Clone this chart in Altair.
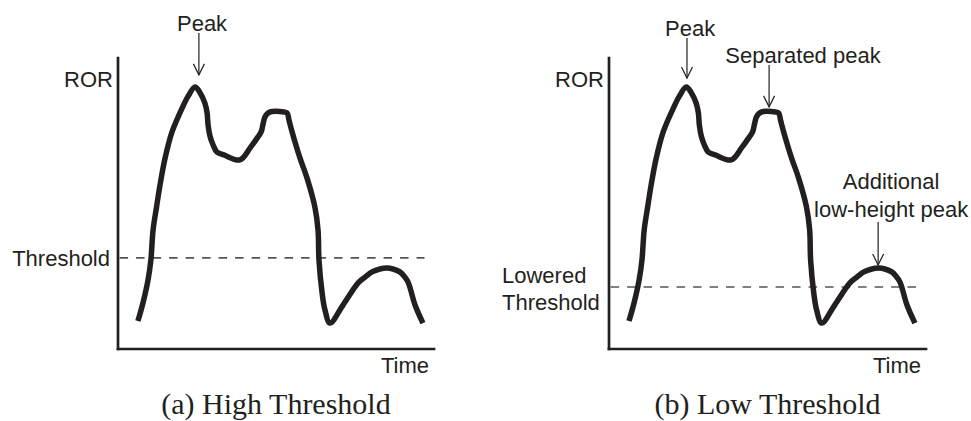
import altair as alt
import pandas as pd

# ---- curve shared by both panels (time and ROR in 0-100 units) ----
time = [6.3, 7.9, 9.5, 10.4, 11.1, 12.2, 13.3, 14.9, 17.1, 20.6, 22.2, 24.4,
        26.0, 27.5, 28.2, 28.5, 29.1, 30.1, 31.3, 33.5, 38.6, 41.8, 44.3, 45.3,
        45.9, 46.5, 47.5, 48.7, 51.3, 53.5, 54.1, 55.1, 57.6, 59.8, 62.3, 63.3,
        63.6, 64.6, 65.5, 67.1, 71.2, 76.0, 78.2, 80.4, 82.9, 85.1, 87.0, 89.2,
        90.5, 91.8, 94.0, 96.5]
ror = [9.6, 15.8, 23.7, 30.6, 40.9, 48.8, 56.4, 65.6, 74.6, 83.5, 86.9, 90.0,
       88.0, 84.5, 81.1, 77.0, 73.2, 70.1, 67.7, 66.7, 65.0, 69.1, 72.9, 74.6,
       77.3, 79.7, 81.1, 81.6, 81.6, 81.1, 78.7, 74.6, 65.6, 58.8, 48.8, 40.9,
       30.6, 19.2, 13.4, 8.9, 15.1, 22.7, 24.7, 26.5, 27.5, 27.8, 27.5, 26.5,
       25.1, 23.0, 15.1, 8.9]

# thresholds
high_threshold = 31.3
low_threshold = 21.3
threshold_span = [0.5, 97.0]

# arrows: time, tail (top) and tip ROR
arrows_a_t = [25.6]
arrows_a_tail = [108.6]
arrows_a_tip = [94.2]
arrows_b_t = [24.6, 50.5, 84.9]
arrows_b_tail = [106.9, 97.6, 43.6]
arrows_b_tip = [93.1, 83.2, 28.9]

# annotation labels
labels_a_text = ["Peak"]
labels_a_t = [26.6]
labels_a_r = [109.4]
labels_b_text = ["Peak", "Separated peak", "Additional", "low-height peak"]
labels_b_t = [25.6, 61.2, 89.0, 89.0]
labels_b_r = [107.6, 98.3, 55.0, 45.5]

titles = ["(a) High Threshold", "(b) Low Threshold"]

SANS = "Liberation Sans"
SERIF = "Liberation Serif"
INK = "#231f20"

curve_df = pd.DataFrame({"t": time, "r": ror})


def panel(xrange, thr, a_t, a_tail, a_tip, l_text, l_t, l_r, title, thr_labels):
    xs = alt.Scale(domain=[0, 100], range=xrange)
    ys = alt.Scale(domain=[0, 100], range=[349, 58])

    def X(f):
        return alt.X(f, type="quantitative", scale=xs, axis=None)

    def Y(f):
        return alt.Y(f, type="quantitative", scale=ys, axis=None)

    axes_df = pd.DataFrame({"x": [0, 0], "x2": [0, 100], "y": [0, 0], "y2": [100, 0]})
    axes = alt.Chart(axes_df).mark_rule(color=INK, strokeWidth=2.7, strokeCap="square").encode(
        x=X("x"), x2="x2", y=Y("y"), y2="y2")

    curve = alt.Chart(curve_df).mark_line(color=INK, strokeWidth=5.5, strokeJoin="miter",
                                          strokeCap="butt", interpolate="catmull-rom").encode(
        x=X("t"), y=Y("r"), order="t:Q")

    thr_df = pd.DataFrame({"t0": [threshold_span[0]], "t1": [threshold_span[1]], "r": [thr]})
    thr_rule = alt.Chart(thr_df).mark_rule(color="#555555", strokeWidth=1.6,
                                           strokeDash=[8.5, 8]).encode(
        x=X("t0"), x2="t1", y=Y("r"))

    arr_df = pd.DataFrame({"t": a_t, "tail": a_tail, "tip": a_tip})
    shafts = alt.Chart(arr_df).mark_rule(color=INK, strokeWidth=1.2).encode(
        x=X("t"), y=Y("tail"), y2="tip")
    heads = alt.Chart(arr_df).mark_point(shape="M-1,-2L0,0L1,-2", size=121, filled=False,
                                         color=INK, strokeWidth=1.2, opacity=1).encode(
        x=X("t"), y=Y("tip"))

    lab_df = pd.DataFrame({"text": l_text, "t": l_t, "r": l_r})
    labels = alt.Chart(lab_df).mark_text(font=SANS, fontSize=22, color=INK, align="center",
                                         baseline="alphabetic").encode(
        x=X("t"), y=Y("r"), text="text:N")

    def anchored(text, t, r, **kw):
        d = pd.DataFrame({"text": [text], "t": [t], "r": [r]})
        return alt.Chart(d).mark_text(color=INK, baseline="alphabetic", **kw).encode(
            x=X("t"), y=Y("r"), text="text:N")

    ror_lab = anchored("ROR", 0, 100, font=SANS, fontSize=22, align="right", dx=-5, dy=29)
    time_lab = anchored("Time", 100, 0, font=SANS, fontSize=22, align="right", dx=-5, dy=24)
    title_lab = anchored(title, 50, 0, font=SERIF, fontSize=30, align="center", dy=65)

    thr_layers = [anchored(txt, 0, thr, font=SANS, fontSize=22, **kw) for txt, kw in thr_labels]

    return alt.layer(axes, thr_rule, curve, shafts, heads, labels, ror_lab, time_lab,
                     title_lab, *thr_layers)


panel_a = panel([118, 434], high_threshold, arrows_a_t, arrows_a_tail, arrows_a_tip,
                labels_a_text, labels_a_t, labels_a_r, titles[0],
                [("Threshold", dict(align="right", dx=-8, dy=8))])
panel_b = panel([609, 926], low_threshold, arrows_b_t, arrows_b_tail, arrows_b_tip,
                labels_b_text, labels_b_t, labels_b_r, titles[1],
                [("Lowered", dict(align="left", dx=-107, dy=-4)),
                 ("Threshold", dict(align="left", dx=-107, dy=23))])

chart = alt.layer(panel_a, panel_b).resolve_scale(x="independent").properties(
    width=971, height=421, padding=0,
    autosize=alt.AutoSizeParams(type="none"),
    background="white",
).configure_view(stroke=None)

chart.save("out.html", embed_options={"renderer": "svg", "actions": False})
